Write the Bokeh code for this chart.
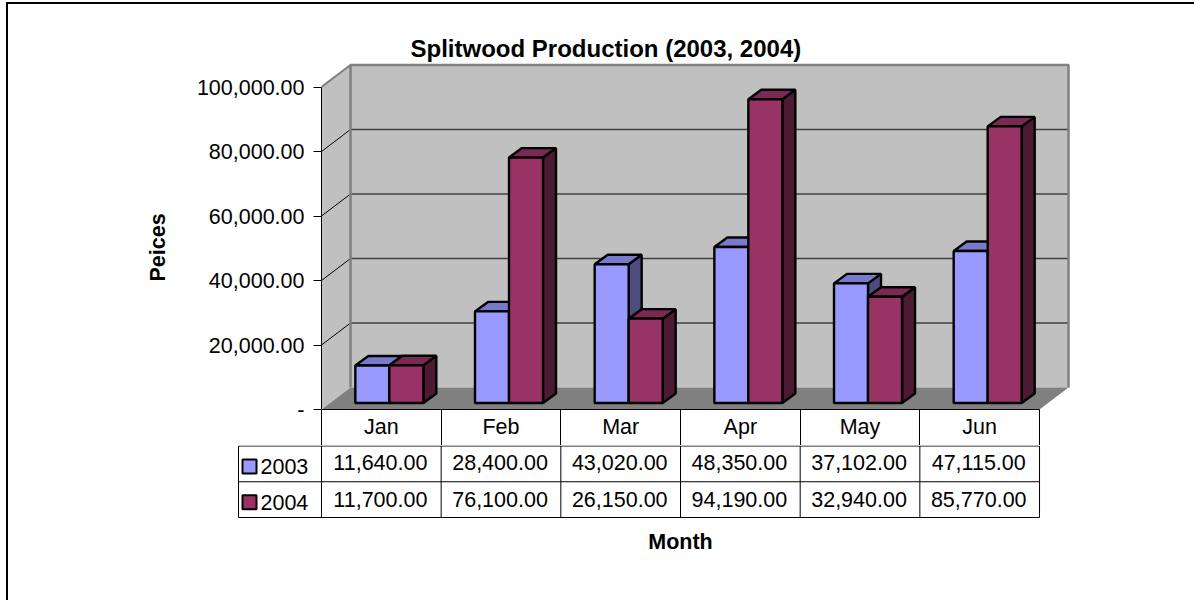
from bokeh.plotting import figure
from bokeh.layouts import column
from bokeh.embed import file_html
from bokeh.resources import INLINE
from bokeh.core.properties import value
from bokeh.models import Range1d, FixedTicker, NumeralTickFormatter, Title, InlineStyleSheet

months = ["Jan", "Feb", "Mar", "Apr", "May", "Jun"]
series_names = ["2003", "2004"]
values_2003 = [11640, 28400, 43020, 48350, 37102, 47115]
values_2004 = [11700, 76100, 26150, 94190, 32940, 85770]
y_ticks = [0, 20000, 40000, 60000, 80000, 100000]
title_text = "Splitwood Production (2003, 2004)"
y_title = "Peices"
x_title = "Month"

FONT = "Liberation Sans"
FS = "21.5px"
PX_X = 119.67          # pixels per month
PX_Y = 0.003225        # pixels per piece
L, R, B, T = 321, 1075, 409, 60
DX, DY = 29 / PX_X, 22 / PX_Y                # wall depth
SDX, SDY = 8.0 / PX_X, 6.5 / PX_Y            # bar offset in the floor
BDX, BDY = 13 / PX_X, 9.5 / PX_Y             # bar depth
BW = 34 / PX_X                               # bar width

p = figure(width=1194, height=445, output_backend="svg", toolbar_location=None,
           x_range=Range1d(0, (R - L) / PX_X), y_range=Range1d(0, (B - T) / PX_Y),
           min_border_left=L, min_border_right=1194 - R, min_border_top=T,
           min_border_bottom=445 - B, outline_line_color=None, x_axis_location="below",
           frame_align=False)
p.grid.visible = False

top = 100000
# walls and floor
p.patch([0, 0, DX, DX], [0, top, top + DY, DY], fill_color="#C0C0C0", line_color=None)
p.patch([DX, DX, 6 + DX, 6 + DX], [DY, top + DY, top + DY, DY], fill_color="#C0C0C0", line_color=None)
p.patch([0, 6, 6 + DX, DX], [0, 0, DY, DY], fill_color="#808080", line_color=None)
# grid lines
for t in y_ticks[1:-1]:
    p.line([0, DX], [t, t + DY], line_color="black", line_width=1)
    p.line([DX, 6 + DX], [t + DY, t + DY], line_color="#404040", line_width=1.3)
# wall edges
p.line([DX, DX, 6 + DX, 6 + DX], [DY, top + DY, top + DY, DY], line_color="#808080", line_width=2.5)
p.line([0, DX], [top, top + DY], line_color="#808080", line_width=2)

styles = [("#9999FF", "#7A7ACC", "#4C4C80"), ("#993366", "#7A2952", "#4C1A33")]


def bar(x0, v, colors):
    x1 = x0 + BW
    y0 = SDY
    y1 = SDY + v
    lw = 2.4
    p.patch([x1, x1 + BDX, x1 + BDX, x1], [y0, y0 + BDY, y1 + BDY, y1],
            fill_color=colors[2], line_color="black", line_width=lw)
    p.patch([x0, x0 + BDX, x1 + BDX, x1], [y1, y1 + BDY, y1 + BDY, y1],
            fill_color=colors[1], line_color="black", line_width=lw)
    p.patch([x0, x1, x1, x0], [y0, y0, y1, y1],
            fill_color=colors[0], line_color="black", line_width=lw)


for i in range(len(months)):
    c = i + 0.5 + SDX
    bar(c - BW, values_2003[i], styles[0])
    bar(c, values_2004[i], styles[1])

# y axis
ya = p.yaxis[0]
ya.bounds = (0, top)
ya.ticker = FixedTicker(ticks=y_ticks)
ya.formatter = NumeralTickFormatter(format="0,0.00")
ya.major_label_overrides = {0: "-"}
ya.major_label_text_font = FONT
ya.major_label_text_font_size = FS
ya.major_label_text_color = "black"
ya.major_tick_in = 0
ya.major_tick_out = 8
ya.minor_tick_line_color = None
ya.major_label_standoff = 9

p.add_layout(Title(text=y_title, align="left", offset=128, text_font=FONT, text_font_size=FS,
                   text_font_style="bold", text_color="black", standoff=48), "left")

# x axis: the first row of the data table
xa = p.xaxis[0]
xa.bounds = (0, 6)
xa.ticker = FixedTicker(ticks=[i + 0.5 for i in range(6)], minor_ticks=list(range(7)))
xa.major_label_overrides = {i + 0.5: m for i, m in enumerate(months)}
xa.major_label_text_font = FONT
xa.major_label_text_font_size = FS
xa.major_label_text_color = "black"
xa.major_tick_line_color = None
xa.major_tick_in = 0
xa.major_tick_out = 0
xa.major_label_standoff = -31
xa.minor_tick_in = 0
xa.minor_tick_out = 36
xa.minor_tick_line_color = "black"

p.title = Title(text=title_text, align="left", offset=89, text_font=FONT, text_font_size="24px",
                text_font_style="bold", text_color="black", standoff=-2)

# data table below
RH = 35.75
tL, tR = 230, 1130
tT, tB = 445, 520
t = figure(width=1194, height=155, output_backend="svg", toolbar_location=None,
           x_range=Range1d((tL - L) / PX_X, (tR - L) / PX_X),
           y_range=Range1d((517 - tB) / RH, (517 - tT) / RH),
           min_border_left=tL, min_border_right=1194 - tR, min_border_top=0,
           min_border_bottom=155 - (tB - tT), outline_line_color=None, frame_align=False)
t.grid.visible = False
t.yaxis.visible = False
tx = t.xaxis[0]
tx.bounds = (0, 6)
tx.ticker = FixedTicker(ticks=[])
tx.axis_line_color = None
tx.major_tick_line_color = None
tx.minor_tick_line_color = None
tx.major_label_text_font_size = "0px"
tx.axis_label = x_title
tx.axis_label_text_font = FONT
tx.axis_label_text_font_size = FS
tx.axis_label_text_font_style = "bold"
tx.axis_label_text_color = "black"
tx.axis_label_standoff = 9

left_edge = (238 - L) / PX_X
for r in [0, 1, 2]:
    t.line([left_edge, 6], [r, r], line_color="black", line_width=1)
for m in range(7):
    t.line([m, m], [0, 2], line_color="black", line_width=1)
t.line([left_edge, left_edge], [0, 2], line_color="black", line_width=1)

for row, vals, off in [(1.5, values_2003, -1), (0.5, values_2004, 0)]:
    t.text([i + 0.5 - 0.008 for i in range(6)], [row] * 6, text=[f"{v:,.2f}" for v in vals],
           text_font=value(FONT), text_font_size=value(FS), text_align="center",
           text_baseline="middle", text_color="black", y_offset=off)

swx0 = (242 - L) / PX_X
swx1 = (256 - L) / PX_X
for row, name, st in [(1.5, series_names[0], styles[0]), (0.5, series_names[1], styles[1])]:
    t.patch([swx0, swx1, swx1, swx0], [row - 0.27, row - 0.27, row + 0.12, row + 0.12],
            fill_color=st[0], line_color="black", line_width=2)
    t.text([(260 - L) / PX_X], [row], text=[name], text_font=value(FONT), text_font_size=value(FS),
           text_align="left", text_baseline="middle", text_color="black", y_offset=3)

frame_css = InlineStyleSheet(css="""
:host::before {content:''; position:absolute; left:6px; top:2px; width:2px; height:598px; background:#000; z-index:10;}
:host::after {content:''; position:absolute; left:6px; top:2px; width:1188px; height:2px; background:#000; z-index:10;}
""")
page = column(p, t, spacing=0, styles={"position": "absolute", "left": "0px", "top": "0px"},
              stylesheets=[frame_css])
open("out.html", "w").write(file_html(page, INLINE))
